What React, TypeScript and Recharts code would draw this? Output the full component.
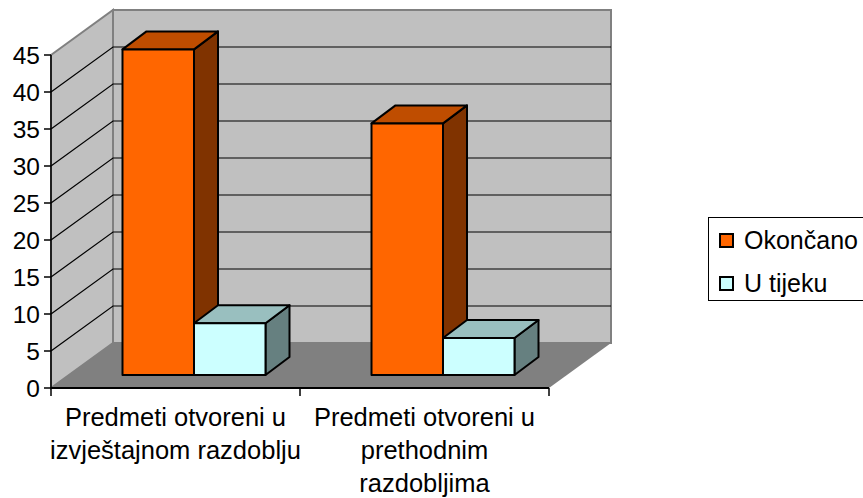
import { Bar, BarChart, Legend, ReferenceLine, XAxis, YAxis, usePlotArea } from "recharts";

const CATEGORIES = ["Predmeti otvoreni u izvještajnom razdoblju", "Predmeti otvoreni u prethodnim razdobljima"];
const CATEGORY_LINES = [
  ["Predmeti otvoreni u", "izvještajnom razdoblju"],
  ["Predmeti otvoreni u", "prethodnim", "razdobljima"],
];
const OKONCANO = [44, 34];
const U_TIJEKU = [7, 5];
const Y_TICKS = [0, 5, 10, 15, 20, 25, 30, 35, 40, 45];
const WALL_LINES = [5, 10, 15, 20, 25, 30, 35, 40];

const data = CATEGORIES.map((name, i) => ({ name, okoncano: OKONCANO[i], uTijeku: U_TIJEKU[i] }));

const FONT = "'Liberation Sans', Arial, sans-serif";
// wall depth and how far the bars sit off the front of the floor
const WALL_DX = 62;
const WALL_DY = -45;
const BAR_SHIFT_X = 18.5;
const BAR_SHIFT_Y = -13;
const BOX_DX = 24;
const BOX_DY = -18;

function Walls() {
  const plot = usePlotArea();
  if (!plot) return null;
  const { x, y, width, height } = plot;
  const b = y + height;
  const r = x + width;
  return (
    <g>
      <polygon points={`${x},${y} ${x + WALL_DX},${y + WALL_DY} ${x + WALL_DX},${b + WALL_DY} ${x},${b}`} fill="#c0c0c0" stroke="#808080" strokeWidth={2} />
      <polygon points={`${x + WALL_DX},${y + WALL_DY} ${r + WALL_DX},${y + WALL_DY} ${r + WALL_DX},${b + WALL_DY} ${x + WALL_DX},${b + WALL_DY}`} fill="#c0c0c0" stroke="#808080" strokeWidth={2} />
      <polygon points={`${x},${b} ${x + WALL_DX},${b + WALL_DY} ${r + WALL_DX},${b + WALL_DY} ${r},${b}`} fill="#808080" />
    </g>
  );
}

function wallLine(props: any) {
  const { x1, x2, y1 } = props;
  return (
    <polyline
      points={`${x1},${y1} ${x1 + WALL_DX},${y1 + WALL_DY} ${x2 + WALL_DX},${y1 + WALL_DY}`}
      fill="none"
      stroke="#000"
      strokeWidth={1.2}
    />
  );
}

function box(front: string, top: string, side: string) {
  return (props: any) => {
    const x = props.x + BAR_SHIFT_X;
    const y = props.y + BAR_SHIFT_Y;
    const { width: w, height: h } = props;
    return (
      <g stroke="#000" strokeWidth={2} strokeLinejoin="round">
        <polygon points={`${x + w},${y} ${x + w + BOX_DX},${y + BOX_DY} ${x + w + BOX_DX},${y + h + BOX_DY} ${x + w},${y + h}`} fill={side} />
        <polygon points={`${x},${y} ${x + BOX_DX},${y + BOX_DY} ${x + w + BOX_DX},${y + BOX_DY} ${x + w},${y}`} fill={top} />
        <rect x={x} y={y} width={w} height={h} fill={front} />
      </g>
    );
  };
}

function CategoryTick(props: any) {
  const { x, y, index } = props;
  const lines = CATEGORY_LINES[index] ?? [];
  const half = 124.5;
  return (
    <g>
      <line x1={x - half} x2={x - half} y1={y - 8} y2={y} stroke="#000" strokeWidth={1.5} />
      {index === CATEGORIES.length - 1 && <line x1={x + half} x2={x + half} y1={y - 8} y2={y} stroke="#000" strokeWidth={1.5} />}
      {lines.map((l: string, i: number) => (
        <text key={l} x={x} y={y + 30 + i * 33} textAnchor="middle" fontSize={25.5} fontFamily={FONT} fill="#000">
          {l}
        </text>
      ))}
    </g>
  );
}

function LegendBox({ payload }: any) {
  return (
    <div style={{ border: "1px solid #000", width: 170, height: 84, boxSizing: "border-box", position: "relative", background: "#fff" }}>
      {(payload ?? []).map((p: any, i: number) => (
        <div key={p.value} style={{ position: "absolute", left: 0, top: 0, fontFamily: FONT, fontSize: 25, color: "#000" }}>
          <span style={{ position: "absolute", left: 10, top: 15 + i * 43, width: 11, height: 11, border: "2px solid #000", background: p.color }} />
          <span style={{ position: "absolute", left: 35, top: 8 + i * 43, lineHeight: "28px", whiteSpace: "nowrap" }}>{p.value}</span>
        </div>
      ))}
    </div>
  );
}

export default function App() {
  return (
    <div style={{ position: "absolute", left: 0, top: 0, width: 863, height: 498, overflow: "hidden", background: "#fff" }}>
      <BarChart width={863} height={498} data={data} margin={{ top: 55, right: 144, bottom: 0, left: 0 }} barSize={71.5} barGap={0} barCategoryGap={0}>
        <Walls />
        {WALL_LINES.map((v) => (
          <ReferenceLine key={v} y={v} shape={wallLine} zIndex={50} />
        ))}
        <XAxis dataKey="name" interval={0} tickLine={false} axisLine={{ stroke: "#000", strokeWidth: 2 }} tick={CategoryTick} height={110} />
        <YAxis
          width={51}
          domain={[0, 45]}
          ticks={Y_TICKS}
          interval={0}
          tickSize={7}
          tickMargin={4}
          tickLine={{ stroke: "#000", strokeWidth: 1.5 }}
          axisLine={{ stroke: "#000", strokeWidth: 1.5 }}
          tick={{ fontSize: 24.5, fontFamily: FONT, fill: "#000" }}
        />
        <Legend
          layout="vertical"
          align="right"
          verticalAlign="middle"
          content={<LegendBox />}
          wrapperStyle={{ position: "absolute", left: 708, top: 217, width: 170, height: 84 }}
        />
        <Bar dataKey="okoncano" name="Okončano" fill="#ff6600" shape={box("#ff6600", "#bf4d00", "#803300")} isAnimationActive={false} />
        <Bar dataKey="uTijeku" name="U tijeku" fill="#ccffff" shape={box("#ccffff", "#99bfbf", "#668080")} isAnimationActive={false} />
      </BarChart>
    </div>
  );
}
